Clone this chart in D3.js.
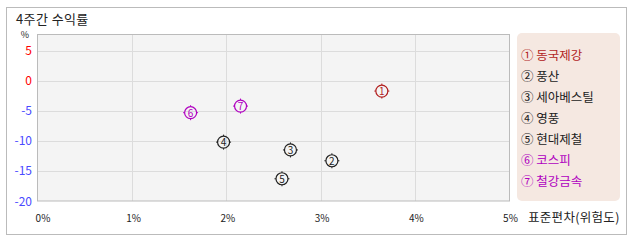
<!DOCTYPE html>
<html>
<head>
<meta charset="utf-8">
<script src="https://d3js.org/d3.v7.min.js"></script>
<style>
  body { margin: 0; background: #fff; }
  text { font-family: "Noto Sans CJK KR", sans-serif; }
</style>
</head>
<body>
<div id="chart"></div>
<script>
// data
var names = ["동국제강", "풍산", "세아베스틸", "영풍", "현대제철", "코스피", "철강금속"];
var marks = ["①", "②", "③", "④", "⑤", "⑥", "⑦"];
var risk = [3.65, 3.12, 2.68, 1.97, 2.59, 1.62, 2.15];     // 표준편차 %
var returns = [-1.7, -13.3, -11.5, -10.2, -16.3, -5.3, -4.2]; // 4주간 수익률 %
var colors = ["#b21f1f", "#222222", "#222222", "#222222", "#222222", "#b000c0", "#b000c0"];
var xTicks = [0, 1, 2, 3, 4, 5];
var yTicks = [5, 0, -5, -10, -15, -20];

var width = 638, height = 242;
var plotLeft = 38, plotRight = 509, plotTop = 34, plotBottom = 201;

var svg = d3.select("#chart").append("svg")
    .attr("width", width)
    .attr("height", height);

// outer frame
svg.append("rect")
    .attr("x", 6.5).attr("y", 7.5)
    .attr("width", 620).attr("height", 227)
    .attr("fill", "#fff")
    .attr("stroke", "#bbb");

svg.append("text")
    .attr("x", 16).attr("y", 24)
    .attr("font-size", 13)
    .attr("letter-spacing", 0.4)
    .attr("fill", "#222")
    .text("4주간 수익률");

var x = d3.scaleLinear().domain([0, 5]).range([plotLeft, plotRight]);
var y = d3.scaleLinear().domain([-20, 7.8]).range([plotBottom, plotTop]);

// plot background
svg.append("rect")
    .attr("x", plotLeft).attr("y", plotTop)
    .attr("width", plotRight - plotLeft).attr("height", plotBottom - plotTop)
    .attr("fill", "#f4f4f4");

var grid = svg.append("g");
grid.selectAll("line.gx")
    .data(xTicks.slice(1, -1))
    .enter().append("line")
    .attr("class", "gx")
    .attr("x1", function(d) { return Math.round(x(d)) + 0.5; })
    .attr("x2", function(d) { return Math.round(x(d)) + 0.5; })
    .attr("y1", plotTop).attr("y2", plotBottom)
    .attr("stroke", "#dcdcdc");

grid.selectAll("line.gy")
    .data(yTicks.slice(0, -1))
    .enter().append("line")
    .attr("class", "gy")
    .attr("x1", plotLeft).attr("x2", plotRight)
    .attr("y1", function(d) { return Math.round(y(d)) + 0.5; })
    .attr("y2", function(d) { return Math.round(y(d)) + 0.5; })
    .attr("stroke", "#dcdcdc");

svg.append("rect")
    .attr("x", plotLeft - 0.5).attr("y", plotTop + 0.5)
    .attr("width", plotRight - plotLeft + 1).attr("height", plotBottom - plotTop - 0.5)
    .attr("fill", "none")
    .attr("stroke", "#bbb");

// y axis labels
svg.append("text")
    .attr("x", 25).attr("y", 38)
    .attr("text-anchor", "middle")
    .attr("font-size", 9)
    .attr("fill", "#222")
    .text("%");

svg.append("g").selectAll("text")
    .data(yTicks)
    .enter().append("text")
    .attr("x", 32)
    .attr("y", function(d) { return y(d) + 4.5; })
    .attr("text-anchor", "end")
    .attr("font-size", 12)
    .attr("fill", function(d) { return d >= 0 ? "#ff0000" : "#4a4aff"; })
    .text(function(d) { return d; });

// x axis labels
svg.append("g").selectAll("text")
    .data(xTicks)
    .enter().append("text")
    .attr("x", function(d) { return d === 0 ? x(d) + 5 : x(d) + 1.5; })
    .attr("y", 222)
    .attr("text-anchor", "middle")
    .attr("font-size", 10)
    .attr("fill", "#222")
    .text(function(d) { return d + "%"; });

svg.append("text")
    .attr("x", 528).attr("y", 222)
    .attr("font-size", 12.5)
    .attr("letter-spacing", 0.3)
    .attr("fill", "#222")
    .text("표준편차(위험도)");

// points
var pts = svg.append("g").selectAll("g")
    .data(names.map(function(n, i) { return i; }))
    .enter().append("g")
    .attr("transform", function(i) { return "translate(" + x(risk[i]) + "," + y(returns[i]) + ")"; });

pts.append("circle")
    .attr("r", 6)
    .attr("fill", "none")
    .attr("stroke", function(i) { return colors[i]; })
    .attr("stroke-width", 1.2);

pts.append("path")
    .attr("d", "M0,-7.5V-6M0,6V7.5M-7.5,0H-6M6,0H7.5")
    .attr("stroke", function(i) { return colors[i]; })
    .attr("stroke-width", 1);

pts.append("text")
    .attr("y", 4)
    .attr("text-anchor", "middle")
    .attr("font-size", 10)
    .attr("fill", function(i) { return colors[i]; })
    .text(function(i) { return i + 1; });

// legend
svg.append("rect")
    .attr("x", 517).attr("y", 33)
    .attr("width", 103).attr("height", 168)
    .attr("rx", 5)
    .attr("fill", "#f5e8e1");

svg.append("g").selectAll("text")
    .data(names.map(function(n, i) { return i; }))
    .enter().append("text")
    .attr("x", 521)
    .attr("y", function(i) { return 60 + i * 21; })
    .attr("font-size", 12.5)
    .attr("fill", function(i) { return colors[i]; })
    .text(function(i) { return marks[i] + " " + names[i]; });
</script>
</body>
</html>
